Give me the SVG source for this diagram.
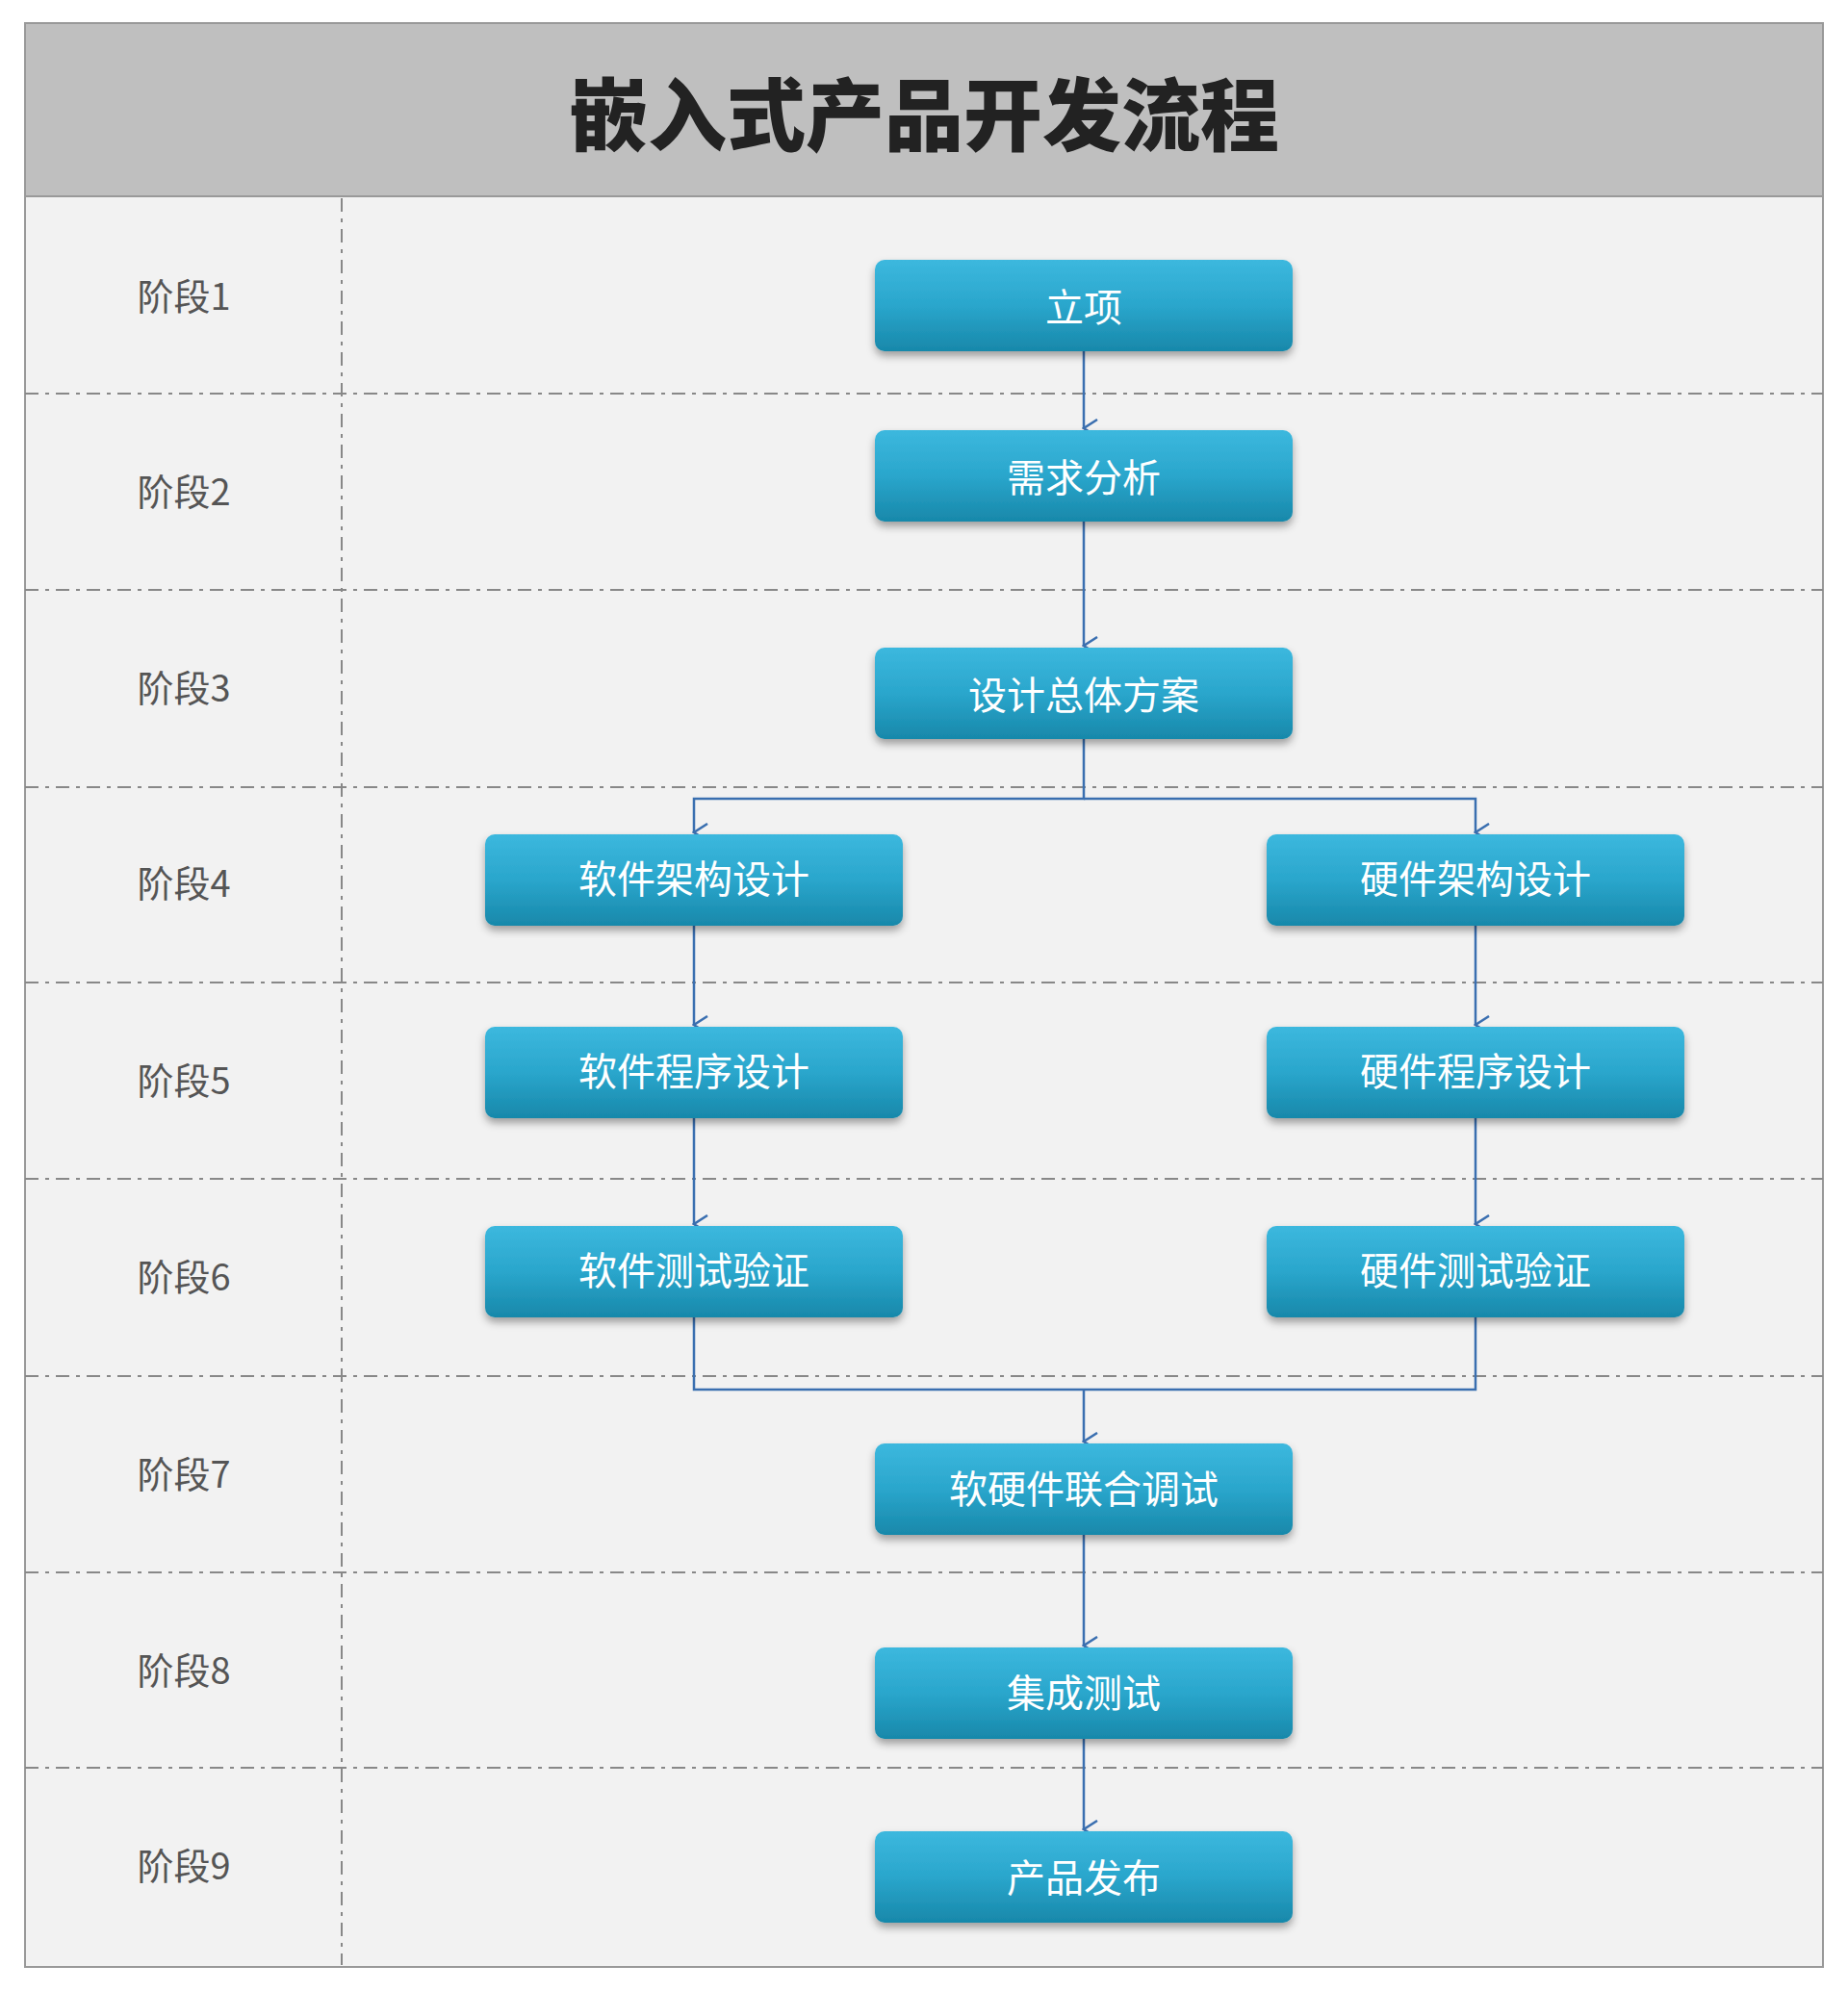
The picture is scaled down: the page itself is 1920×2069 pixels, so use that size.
<svg xmlns="http://www.w3.org/2000/svg" width="1920" height="2069" viewBox="0 0 1920 2069">
<defs>
<linearGradient id="g" x1="0" y1="0" x2="0" y2="1"><stop offset="0" stop-color="#3cb8de"/><stop offset="0.5" stop-color="#2aa6cc"/><stop offset="1" stop-color="#1888aa"/></linearGradient>
<filter id="sh" x="-10%" y="-20%" width="120%" height="150%"><feDropShadow dx="0" dy="5" stdDeviation="4" flood-color="#000" flood-opacity="0.35"/></filter>
<marker id="ar" viewBox="0 0 20 20" refX="10" refY="18" markerWidth="20" markerHeight="20" markerUnits="userSpaceOnUse" orient="auto-start-reverse"><path d="M1,4 L10,18 L19,4" fill="none" stroke="#3a6fb0" stroke-width="2.5"/></marker>
</defs>
<style>
.st{font-family:"Noto Sans CJK SC","Liberation Serif",serif;font-size:38px;fill:#555;text-anchor:middle;dominant-baseline:central}
.nt{font-family:"Noto Sans CJK SC",sans-serif;font-size:40px;fill:#fff;text-anchor:middle;dominant-baseline:central}
.nb{fill:url(#g);filter:url(#sh)}
.dl{stroke:#888;stroke-width:2;stroke-dasharray:14,7,4,7;fill:none}
.cn{stroke:#3a6fb0;stroke-width:2.5;fill:none}
</style>
<rect x="26" y="24" width="1868" height="2020" fill="#f2f2f2" stroke="#999" stroke-width="2"/>
<rect x="26" y="24" width="1868" height="180" fill="#bfbfbf" stroke="#999" stroke-width="2"/>
<text x="960" y="114" style="font-family:'Noto Sans CJK SC',serif;font-size:82px;font-weight:900;fill:#222;text-anchor:middle;dominant-baseline:central">嵌入式产品开发流程</text>
<g id="grid">
<line class="dl" x1="355" y1="206" x2="355" y2="2042"/>
<line class="dl" x1="26" y1="409" x2="1894" y2="409"/>
<line class="dl" x1="26" y1="613" x2="1894" y2="613"/>
<line class="dl" x1="26" y1="818" x2="1894" y2="818"/>
<line class="dl" x1="26" y1="1021" x2="1894" y2="1021"/>
<line class="dl" x1="26" y1="1225" x2="1894" y2="1225"/>
<line class="dl" x1="26" y1="1430" x2="1894" y2="1430"/>
<line class="dl" x1="26" y1="1634" x2="1894" y2="1634"/>
<line class="dl" x1="26" y1="1837" x2="1894" y2="1837"/>
</g>
<g id="stages">
<text class="st" x="191" y="305">阶段1</text>
<text class="st" x="191" y="508">阶段2</text>
<text class="st" x="191" y="712">阶段3</text>
<text class="st" x="191" y="915">阶段4</text>
<text class="st" x="191" y="1120">阶段5</text>
<text class="st" x="191" y="1324">阶段6</text>
<text class="st" x="191" y="1529">阶段7</text>
<text class="st" x="191" y="1733">阶段8</text>
<text class="st" x="191" y="1936">阶段9</text>
</g>
<g id="connectors">
<line class="cn" x1="1126" y1="365" x2="1126" y2="445" marker-end="url(#ar)"/>
<line class="cn" x1="1126" y1="542" x2="1126" y2="671" marker-end="url(#ar)"/>
<path class="cn" d="M1126,768 V830 H721 V865" marker-end="url(#ar)"/>
<path class="cn" d="M1126,830 H1533 V865" marker-end="url(#ar)"/>
<line class="cn" x1="721" y1="962" x2="721" y2="1065" marker-end="url(#ar)"/>
<line class="cn" x1="1533" y1="962" x2="1533" y2="1065" marker-end="url(#ar)"/>
<line class="cn" x1="721" y1="1162" x2="721" y2="1272" marker-end="url(#ar)"/>
<line class="cn" x1="1533" y1="1162" x2="1533" y2="1272" marker-end="url(#ar)"/>
<path class="cn" d="M721,1369 V1444 H1533 V1369"/>
<line class="cn" x1="1126" y1="1444" x2="1126" y2="1498" marker-end="url(#ar)"/>
<line class="cn" x1="1126" y1="1595" x2="1126" y2="1710" marker-end="url(#ar)"/>
<line class="cn" x1="1126" y1="1807" x2="1126" y2="1901" marker-end="url(#ar)"/>
</g>
<g id="n1"><rect class="nb" x="909" y="270" width="434" height="95" rx="10"/><text class="nt" x="1126" y="317">立项</text></g>
<g id="n2"><rect class="nb" x="909" y="447" width="434" height="95" rx="10"/><text class="nt" x="1126" y="494">需求分析</text></g>
<g id="n3"><rect class="nb" x="909" y="673" width="434" height="95" rx="10"/><text class="nt" x="1126" y="720">设计总体方案</text></g>
<g id="n4a"><rect class="nb" x="504" y="867" width="434" height="95" rx="10"/><text class="nt" x="721" y="911">软件架构设计</text></g>
<g id="n4b"><rect class="nb" x="1316" y="867" width="434" height="95" rx="10"/><text class="nt" x="1533" y="911">硬件架构设计</text></g>
<g id="n5a"><rect class="nb" x="504" y="1067" width="434" height="95" rx="10"/><text class="nt" x="721" y="1111">软件程序设计</text></g>
<g id="n5b"><rect class="nb" x="1316" y="1067" width="434" height="95" rx="10"/><text class="nt" x="1533" y="1111">硬件程序设计</text></g>
<g id="n6a"><rect class="nb" x="504" y="1274" width="434" height="95" rx="10"/><text class="nt" x="721" y="1318">软件测试验证</text></g>
<g id="n6b"><rect class="nb" x="1316" y="1274" width="434" height="95" rx="10"/><text class="nt" x="1533" y="1318">硬件测试验证</text></g>
<g id="n7"><rect class="nb" x="909" y="1500" width="434" height="95" rx="10"/><text class="nt" x="1126" y="1545">软硬件联合调试</text></g>
<g id="n8"><rect class="nb" x="909" y="1712" width="434" height="95" rx="10"/><text class="nt" x="1126" y="1757">集成测试</text></g>
<g id="n9"><rect class="nb" x="909" y="1903" width="434" height="95" rx="10"/><text class="nt" x="1126" y="1949">产品发布</text></g>
</svg>
